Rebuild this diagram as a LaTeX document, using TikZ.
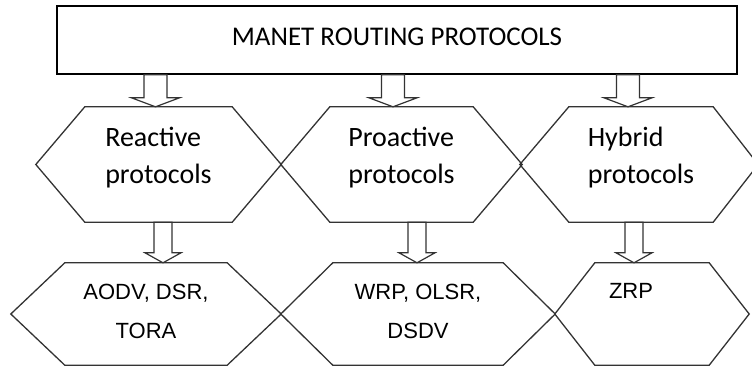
\documentclass[tikz,border=0pt]{standalone}
\usepackage{fontspec}
\setmainfont{Carlito}
\newfontfamily\arialfont{Liberation Sans}
\usetikzlibrary{calc}

% hexagon drawn round an empty node: node, left slant, right slant
\newcommand{\hexpath}[3]{%
  \draw[hexline] (#1.north west) -- (#1.north east) -- ([xshift=#3pt]#1.east)
    -- (#1.south east) -- (#1.south west) -- ([xshift=-#2pt]#1.west) -- cycle;
}
% hollow block arrow: from, to, xshift, shaft half width, head half width, head height
\newcommand{\blockarrow}[6]{%
  \draw[arrowline] let \p1 = (#1), \p2 = (#2), \n1 = {\x2+(#3)} in
    (\n1-#4,\y1) -- (\n1-#4,\y2+#6) -- (\n1-#5,\y2+#6) -- (\n1,\y2)
    -- (\n1+#5,\y2+#6) -- (\n1+#4,\y2+#6) -- (\n1+#4,\y1) -- cycle;
}

\begin{document}
\begin{tikzpicture}[
    x = 1pt, y = -1pt,
    topbox/.style = {draw, line width = 1.5pt, minimum width = 680pt, minimum height = 68pt,
      text depth = 7pt, font = \fontsize{27}{32}\selectfont},
    hexshape/.style = {inner sep = 0pt, minimum height = 115pt},
    listshape/.style = {inner sep = 0pt, minimum height = 102pt},
    hexline/.style = {draw = black!80, line width = 1.3pt, line join = miter},
    arrowline/.style = {draw = black!80, line width = 1.2pt},
    protxt/.style = {anchor = north, align = left, inner sep = 0pt,
      font = \fontsize{28}{37}\selectfont},
    listtxt/.style = {anchor = north, align = center, inner sep = 0pt,
      font = \arialfont\fontsize{22}{39}\selectfont}
]
\useasboundingbox (0,0) rectangle (752,369);

\node[topbox] (manet) at (397,40) {MANET ROUTING PROTOCOLS};

% protocol classes
\node[hexshape, minimum width = 147pt] (reac) at (158.5,164.5) {};
\node[hexshape, minimum width = 143pt] (proa) at (401.5,164.5) {};
\node[hexshape, minimum width = 144pt] (hybr) at (641,164.5) {};
\hexpath{reac}{49}{49}
\hexpath{proa}{49}{49}
\hexpath{hybr}{49}{45}
\node[protxt] (reactxt) at ([yshift=-20pt]reac.north) {Reactive\\protocols};
\node[protxt] (proatxt) at ([yshift=-20pt]proa.north) {Proactive\\protocols};
\node[protxt] (hybrtxt) at ([yshift=-20pt]hybr.north) {Hybrid\\protocols};

% protocol lists
\node[listshape, minimum width = 162pt] (rlist) at (146,314) {};
\node[listshape, minimum width = 170pt] (plist) at (418,314) {};
\node[listshape, minimum width = 114pt] (hlist) at (652,314) {};
\hexpath{rlist}{54}{54}
\hexpath{plist}{52}{52}
\hexpath{hlist}{40}{40}
\node[listtxt] (rlisttxt) at ([yshift=-21pt]rlist.north) {AODV, DSR,\\TORA};
\node[listtxt] (plisttxt) at ([yshift=-21pt]plist.north) {WRP, OLSR,\\DSDV};
\node[listtxt] (hlisttxt) at ([xshift=-21pt, yshift=-20pt]hlist.north) {ZRP};

% arrows
\blockarrow{manet.south}{reac.north}{-3}{11.5}{24}{9}
\blockarrow{manet.south}{proa.north}{-8.5}{11.5}{24}{9}
\blockarrow{manet.south}{hybr.north}{-13}{11.5}{24}{9}
\blockarrow{reac.south}{rlist.north}{17}{9}{18}{10}
\blockarrow{proa.south}{plist.north}{-1}{9}{18}{10}
\blockarrow{hybr.south}{hlist.north}{-18}{9}{18}{10}

\end{tikzpicture}
\end{document}
